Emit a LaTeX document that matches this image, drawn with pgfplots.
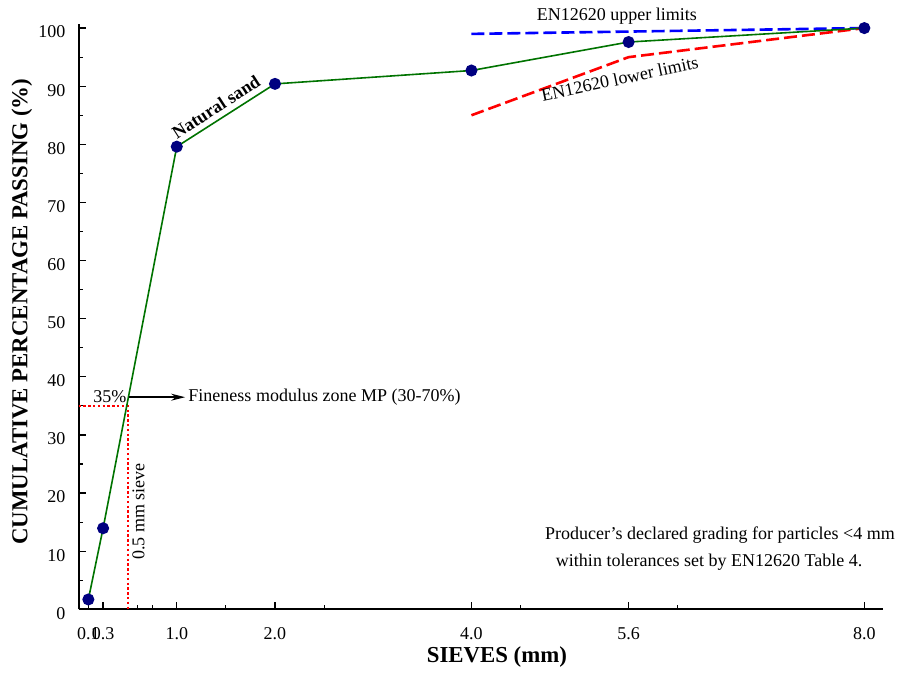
\documentclass[border=0pt]{standalone}
\usepackage{pgfplots}
\pgfplotsset{compat=1.18}
\usepackage{fontspec}
\setmainfont{Liberation Serif}
\usetikzlibrary{arrows.meta}
\definecolor{navyblue}{rgb}{0,0,0.5}
\definecolor{dgreen}{rgb}{0,0.45,0}
\begin{document}
\begin{tikzpicture}
\begin{axis}[
  scale only axis, width=402pt, height=292.5pt,
  xmin=0, xmax=8.19, ymin=0, ymax=100.7,
  axis x line*=bottom, axis y line*=left,
  axis line style={line width=1pt, -},
  xtick={0.1,0.25,1,2,4,5.6,8},
  xticklabels={0.1,0.3,1.0,2.0,4.0,5.6,8.0},
  minor xtick={0.6,0.75,1.5,2.5,4.5,6.1},
  ytick={0,10,...,100},
  minor ytick={5,15,...,95},
  major tick length=3.5pt, minor tick length=2pt,
  tick style={black, line width=0.6pt},
  tick label style={font=\fontsize{9}{10}\selectfont},
  xticklabel style={yshift=-5.5pt},
  yticklabel style={xshift=-3pt, yshift=-2pt},
  /pgf/number format/assume math mode=true,
  xlabel={SIEVES (mm)},
  ylabel={CUMULATIVE PERCENTAGE PASSING (\%)},
  label style={font=\fontsize{11.4}{13}\selectfont\bfseries},
  xlabel style={at={(axis description cs:0.52,-0.082)}, anchor=center},
  ylabel style={at={(axis description cs:-0.0703,0.5085)}, anchor=center},
  clip=false,
]
\coordinate (ll) at (rel axis cs:0,0);
\coordinate (ur) at (rel axis cs:1,1);
% EN12620 limits
\addplot[blue, line width=1.3pt, dash pattern=on 6.5pt off 2.5pt] coordinates {(4,99) (8,100)};
\addplot[red, line width=1.3pt, dash pattern=on 6.5pt off 2.5pt] coordinates {(4,85) (5.6,95) (8,100)};
% 0.5 mm sieve guide
\addplot[red, line width=1pt, dash pattern=on 1.2pt off 1.2pt] coordinates {(0,35) (0.5,35) (0.5,0)};
% Natural sand grading
\addplot[dgreen, line width=0.8pt, mark=*, mark size=2.6pt, mark options={fill=navyblue, draw=navyblue}]
  coordinates {(0.1,1.7) (0.25,13.95) (1,79.6) (2,90.4) (4,92.7) (5.6,97.6) (8,100)};
\draw[-{Stealth[length=7pt,width=3.5pt]}, line width=0.8pt] (axis cs:0.51,36.5) -- (axis cs:1.085,36.5);
\node[font=\fontsize{9}{10}\selectfont, anchor=base, inner sep=0pt] at (axis cs:0.32,35.5) {35\%};
\node[font=\fontsize{9}{10}\selectfont, anchor=base west, inner sep=0pt] at (axis cs:1.115,35.8) {Fineness modulus zone MP (30-70\%)};
\node[font=\fontsize{9}{10}\selectfont, rotate=90, anchor=center, inner sep=0pt] at (axis cs:0.61,16.8) {0.5 mm sieve};
\node[font=\fontsize{9}{10}\selectfont\bfseries, rotate=33, anchor=center, inner sep=0pt] at (axis cs:1.40,86.4) {Natural sand};
\node[font=\fontsize{9}{10}\selectfont, anchor=center, inner sep=0pt] at (axis cs:5.48,102.1) {EN12620 upper limits};
\node[font=\fontsize{9}{10}\selectfont, rotate=12, anchor=center, inner sep=0pt] at (axis cs:5.51,91.3) {EN12620 lower limits};
\node[font=\fontsize{9}{10}\selectfont, anchor=center, inner sep=0pt] at (axis cs:6.53,12.74) {Producer’s declared grading for particles <4 mm};
\node[font=\fontsize{9}{10}\selectfont, anchor=center, inner sep=0pt] at (axis cs:6.42,8.15) {within tolerances set by EN12620 Table 4.};
\end{axis}
\pgfresetboundingbox
\path[use as bounding box] ([shift={(-39.25pt,-33pt)}]ll) rectangle ([shift={(8.5pt,12pt)}]ur);
\end{tikzpicture}
\end{document}
